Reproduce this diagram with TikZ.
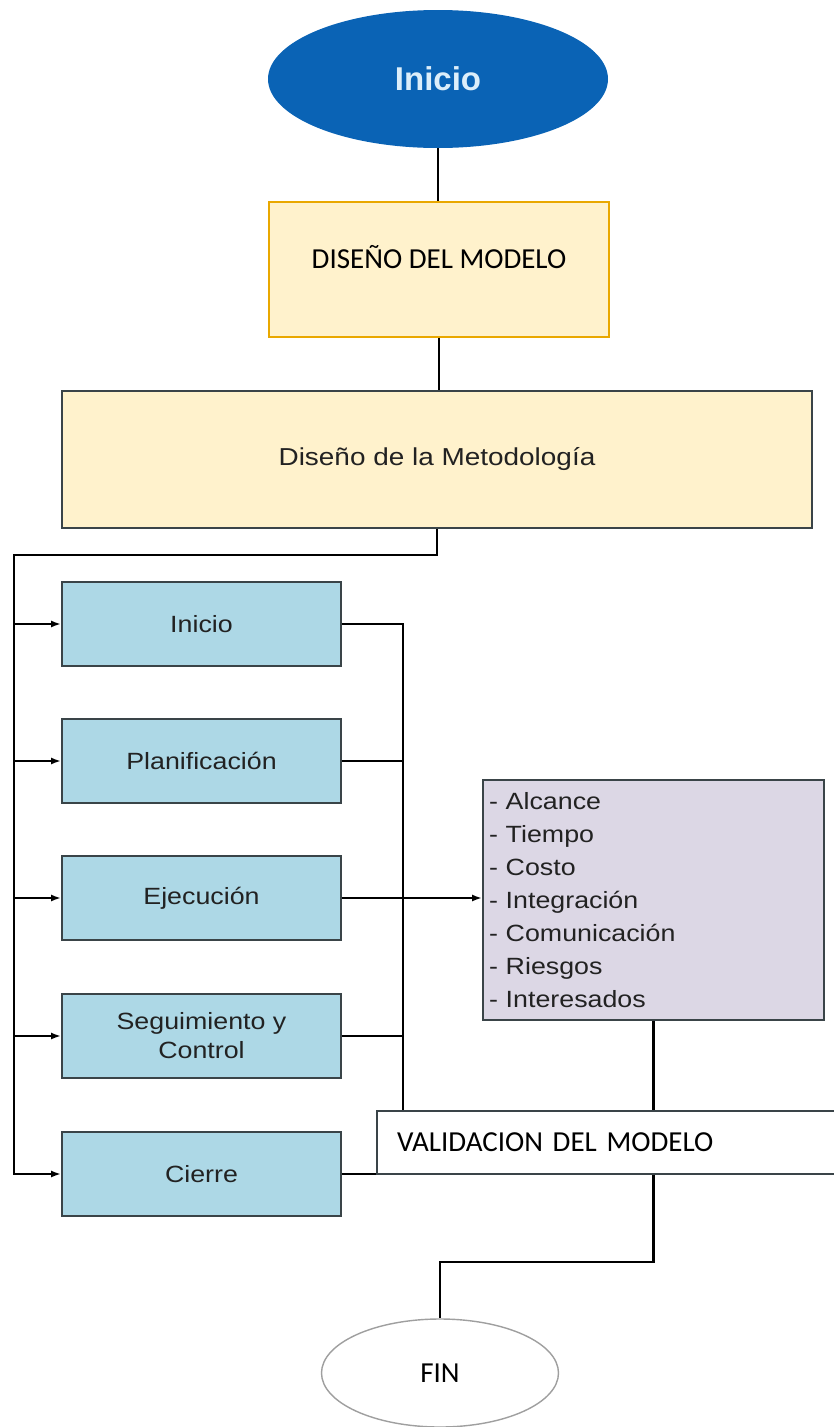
\documentclass[tikz,border=0pt]{standalone}
\usepackage{fontspec}
\newfontfamily\arialw[FakeStretch=1.14]{Liberation Sans}
\newfontfamily\arialn{Liberation Sans}
\newfontfamily\calib{Carlito}
\usetikzlibrary{shapes.geometric,arrows.meta}
\definecolor{iniblue}{HTML}{0A63B5}
\definecolor{initext}{HTML}{DCEEFA}
\definecolor{cream}{HTML}{FFF2CC}
\definecolor{gold}{HTML}{E9A800}
\definecolor{boxgray}{HTML}{3A4448}
\definecolor{lblue}{HTML}{ADD8E6}
\definecolor{lav}{HTML}{DCD7E5}
\definecolor{txtdark}{HTML}{222222}
\tikzset{
  conn/.style={line width=2.2pt, black},
  arr/.style={conn, -{Latex[length=10pt,width=7pt]}},
  phase/.style={rectangle, draw=boxgray, line width=1.8pt, fill=lblue,
    minimum width=279pt, minimum height=84pt, inner sep=0pt, align=center,
    text=txtdark, font=\arialw\fontsize{23.5}{29}\selectfont},
  calibtext/.style={font=\calib\fontsize{29}{34}\selectfont, text=black}
}
\begin{document}
\begin{tikzpicture}[x=1pt,y=-1pt]
\useasboundingbox (0,0) rectangle (833,1427);

\node[ellipse, fill=iniblue, minimum width=340pt, minimum height=138pt, inner sep=0pt,
      text=initext, font=\arialn\bfseries\fontsize{33}{36}\selectfont] (ini) at (438,79) {Inicio};

\node[rectangle, fill=cream, draw=gold, line width=1.4pt, minimum width=340pt, minimum height=135pt,
      inner sep=0pt, text height=19pt, text depth=22pt, calibtext] (dm) at (439,269.5) {DISEÑO DEL MODELO};

\node[rectangle, fill=cream, draw=boxgray, line width=1.8pt, minimum width=750pt, minimum height=137pt,
      inner sep=0pt, text=txtdark, font=\arialw\fontsize{24.5}{29}\selectfont] (met) at (437,459.5) {Diseño de la Metodología};

\node[phase] (p1) at (201.5,624) {Inicio};
\node[phase] (p2) at (201.5,761) {Planificación};
\node[phase] (p3) at (201.5,898) {Ejecución};
\node[phase] (p4) at (201.5,1036) {Seguimiento y\\Control};
\node[phase] (p5) at (201.5,1174) {Cierre};

\node[rectangle, fill=lav, draw=boxgray, line width=1.8pt, minimum width=341pt, minimum height=240pt,
      inner xsep=6pt, inner ysep=0pt, text width=329pt, align=left, text=txtdark,
      font=\arialw\fontsize{23.5}{33}\selectfont] (lista) at (653.5,900)
  {- Alcance\\- Tiempo\\- Costo\\- Integración\\- Comunicación\\- Riesgos\\- Interesados};

\node[rectangle, fill=white, draw=boxgray, line width=1.6pt, minimum height=63pt,
      inner xsep=20pt, inner ysep=0pt, text width=419pt, align=left, calibtext] (val) at (606.5,1142.5)
  {VALIDACION DEL MODELO};

\node[ellipse, fill=white, draw=gray!75, line width=1.4pt, minimum width=237pt, minimum height=108pt,
      inner sep=0pt, calibtext] (fin) at (440,1373) {FIN};

% connectors
\draw[conn] (ini.south) -- (ini.south |- dm.north);
\draw[conn] (dm.south) -- (dm.south |- met.north);

\coordinate (bl) at (14,555);
\draw[arr] (met.south) |- (bl) |- (p5.west);
\draw[arr] (bl |- p1.west) -- (p1.west);
\draw[arr] (bl |- p2.west) -- (p2.west);
\draw[arr] (bl |- p3.west) -- (p3.west);
\draw[arr] (bl |- p4.west) -- (p4.west);

\coordinate (br) at (403,624);
\draw[conn] (p1.east) -- (br) -- (br |- val.north);
\draw[conn] (p2.east) -- (p2.east -| br);
\draw[conn] (p4.east) -- (p4.east -| br);
\draw[arr] (p3.east) -- (p3.east -| lista.west);
\draw[conn] (p5.east) -- (p5.east -| val.west);

\draw[conn] (lista.south) -- (lista.south |- val.north);
\coordinate (bend) at (440,1262);
\draw[conn] (lista.south |- val.south) |- (bend) -- (fin.north);
\end{tikzpicture}
\end{document}
